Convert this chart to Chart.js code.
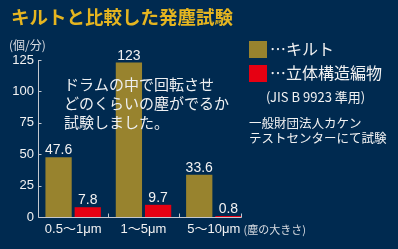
<!DOCTYPE html>
<html>
<head>
<meta charset="utf-8">
<script src="https://cdn.jsdelivr.net/npm/chart.js@4"></script>
<style>
  html, body { margin: 0; padding: 0; background: #002a50; }
  canvas { display: block; }
</style>
</head>
<body>
<canvas id="chart" width="398" height="249"></canvas>
<script>
// chart data
const categories = ["0.5〜1μm", "1〜5μm", "5〜10μm"];
const seriesNames = ["キルト", "立体構造編物"];
const quiltValues = [47.6, 123, 33.6];
const knitValues = [7.8, 9.7, 0.8];
const yTicks = [0, 25, 50, 75, 100, 125];

const GOLD = "#98832e";
const RED = "#e60012";
const AXIS = "#c3c8d0";
const TEXT = "#f2f2f2";
const LATIN = "'Liberation Sans', 'Noto Sans CJK JP', sans-serif";
const JP = "'Noto Sans CJK JP', sans-serif";

// draws axes, labels, legend and notes on top of the bars
const overlay = {
  id: "overlay",
  beforeDraw(chart) {
    const ctx = chart.ctx;
    ctx.save();
    ctx.fillStyle = "#002a50";
    ctx.fillRect(0, 0, chart.width, chart.height);
    ctx.restore();
  },
  afterDatasetsDraw(chart) {
    const { ctx, chartArea: a, scales } = chart;
    const xs = scales.x;
    const ys = scales.y;
    const lastBar = chart.getDatasetMeta(1).data[categories.length - 1];
    const axisEnd = lastBar.x + lastBar.width / 2;
    const axisX = a.left + 0.5;
    const baseY = Math.round(ys.getPixelForValue(0)) + 0.5;

    ctx.save();
    ctx.strokeStyle = AXIS;
    ctx.lineWidth = 1;
    ctx.beginPath();
    ctx.moveTo(axisX, ys.getPixelForValue(125));
    ctx.lineTo(axisX, baseY);
    ctx.lineTo(axisEnd, baseY);
    // y ticks point inwards
    yTicks.forEach((v) => {
      const py = Math.round(ys.getPixelForValue(v)) + 0.5;
      ctx.moveTo(axisX, py);
      ctx.lineTo(axisX + 3, py);
    });
    // x ticks between categories and at the end
    for (let i = 0; i < categories.length - 1; i++) {
      const px = Math.round((xs.getPixelForValue(i) + xs.getPixelForValue(i + 1)) / 2) + 0.5;
      ctx.moveTo(px, baseY);
      ctx.lineTo(px, baseY - 4);
    }
    ctx.moveTo(Math.round(axisEnd) - 0.5, baseY);
    ctx.lineTo(Math.round(axisEnd) - 0.5, baseY - 4);
    ctx.stroke();

    // y tick labels
    ctx.fillStyle = TEXT;
    ctx.font = "13px " + LATIN;
    ctx.textAlign = "right";
    ctx.textBaseline = "middle";
    yTicks.forEach((v) => {
      ctx.fillText(String(v), a.left - 4, ys.getPixelForValue(v));
    });

    // category labels
    ctx.textAlign = "center";
    ctx.font = "13px " + LATIN;
    categories.forEach((c, i) => {
      ctx.fillText(c, xs.getPixelForValue(i), baseY + 12);
    });
    ctx.textAlign = "left";
    ctx.font = "11px " + JP;
    ctx.fillStyle = "#d8dce2";
    ctx.fillText("(塵の大きさ)", axisEnd + 2, baseY + 12);

    // value labels above bars
    ctx.fillStyle = TEXT;
    ctx.font = "14px " + LATIN;
    ctx.textAlign = "center";
    ctx.textBaseline = "alphabetic";
    chart.data.datasets.forEach((ds, di) => {
      chart.getDatasetMeta(di).data.forEach((bar, i) => {
        ctx.fillText(String(ds.data[i]), bar.x, bar.y - 3);
      });
    });

    // unit
    ctx.textAlign = "left";
    ctx.textBaseline = "middle";
    ctx.font = "12px " + JP;
    ctx.fillStyle = "#d8dce2";
    ctx.fillText("(個/分)", 9, 45);

    // title
    ctx.fillStyle = "#e5b520";
    ctx.font = "bold 18.5px " + JP;
    ctx.fillText("キルトと比較した発塵試験", 11, 17);

    // note inside plot
    ctx.fillStyle = "#eef0f2";
    ctx.font = "15px " + JP;
    ["ドラムの中で回転させ", "どのくらいの塵がでるか", "試験しました。"].forEach((t, i) => {
      ctx.fillText(t, 64, 84 + i * 19);
    });

    // legend
    const colors = [GOLD, RED];
    seriesNames.forEach((name, i) => {
      const top = 41 + i * 24;
      ctx.fillStyle = colors[i];
      ctx.fillRect(249, top, 18, 17);
      ctx.fillStyle = TEXT;
      ctx.font = "16px " + JP;
      ctx.fillText("…" + name, 270, top + 8);
    });
    ctx.font = "13px " + JP;
    ctx.fillText("(JIS B 9923 準用)", 266, 97);
    ctx.font = "12.5px " + JP;
    ctx.fillText("一般財団法人カケン", 249, 123);
    ctx.fillText("テストセンターにて試験", 249, 138);
    ctx.restore();
  },
};

new Chart(document.getElementById("chart"), {
  type: "bar",
  data: {
    labels: categories,
    datasets: [
      { label: seriesNames[0], data: quiltValues, backgroundColor: GOLD },
      { label: seriesNames[1], data: knitValues, backgroundColor: RED },
    ],
  },
  options: {
    responsive: false,
    animation: false,
    devicePixelRatio: 1,
    layout: { padding: { left: 38, right: 149, top: 60, bottom: 32 } },
    datasets: { bar: { categoryPercentage: 0.83, barPercentage: 0.9 } },
    scales: {
      x: { display: false, offset: true },
      y: { display: false, min: 0, max: 125 },
    },
    plugins: {
      legend: { display: false },
      tooltip: { enabled: false },
    },
  },
  plugins: [overlay],
});
</script>
</body>
</html>
